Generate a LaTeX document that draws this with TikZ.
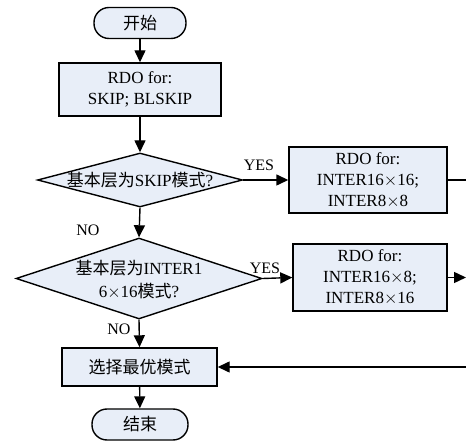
\documentclass[tikz,border=0pt]{standalone}
\usepackage{fontspec}
\setmainfont{Liberation Serif}
\newfontfamily\cjk{Noto Sans CJK SC}
\usetikzlibrary{shapes.geometric,arrows.meta}
\definecolor{boxfill}{HTML}{E8EEF8}
\tikzset{
  base/.style={draw=black, line width=1.4pt, fill=boxfill, inner sep=0pt, font=\fontsize{17}{21}\selectfont, align=center},
  term/.style={base, rounded corners=15pt, minimum height=31pt},
  proc/.style={base, rectangle},
  dec/.style={base, diamond},
  txt/.style={inner sep=0pt, font=\fontsize{17}{23}\selectfont, align=center},
  lbl/.style={inner sep=0pt, font=\fontsize{16}{19}\selectfont},
  conn/.style={line width=1.4pt, -{Triangle[length=12pt,width=11pt]}},
  plain/.style={line width=1.4pt}
}
\begin{document}
\begin{tikzpicture}[x=1pt,y=-1pt]
\useasboundingbox (0,0) rectangle (466,443);
\node[term, minimum width=92pt] (start) at (140,23) {\cjk 开始};
\node[proc, minimum width=162pt, minimum height=53pt] (rdo1) at (140,89.5) {RDO for:\\SKIP; BLSKIP};
\node[dec, minimum width=205pt, minimum height=54pt] (d1) at (140,180) {};
\node[txt] (d1t) at (140,180) {{\cjk 基本层为}SKIP{\cjk 模式}?};
\node[proc, minimum width=158pt, minimum height=66pt] (rdo2) at (368,180) {RDO for:\\INTER16$\times$16;\\INTER8$\times$8};
\node[dec, minimum width=246pt, minimum height=81pt] (d2) at (139,278.5) {};
\node[txt] (d2t) at (139,280) {{\cjk 基本层为}INTER1\\6$\times$16{\cjk 模式}?};
\node[proc, minimum width=154pt, minimum height=67pt] (rdo3) at (370,277.5) {RDO for:\\INTER16$\times$8;\\INTER8$\times$16};
\node[proc, minimum width=155pt, minimum height=38pt] (best) at (139.5,367) {\cjk 选择最优模式};
\node[term, minimum width=96pt] (stop) at (140,424.5) {\cjk 结束};
\coordinate (e1) at (466,180);
\coordinate (e2) at (466,277.5);
\coordinate (e3) at (466,367);
\draw[conn] (start) -- (rdo1);
\draw[conn] (rdo1) -- (d1);
\draw[conn] (d1.east) -- (rdo2.west);
\draw[plain] (rdo2.east) -- (e1);
\draw[conn] (d1.south) -- (d2.north);
\draw[conn] (d2.east) -- (rdo3.west);
\draw[conn] (rdo3.east) -- (e2);
\draw[conn] (d2.south) -- (best.north);
\draw[conn] (e3) -- (best.east);
\draw[conn] (best) -- (stop);
\node[lbl] (yes1) at (259,165) {YES};
\node[lbl] (yes2) at (265,268) {YES};
\node[lbl] (no1) at (88,230) {NO};
\node[lbl] (no2) at (119,329) {NO};
\end{tikzpicture}
\end{document}
